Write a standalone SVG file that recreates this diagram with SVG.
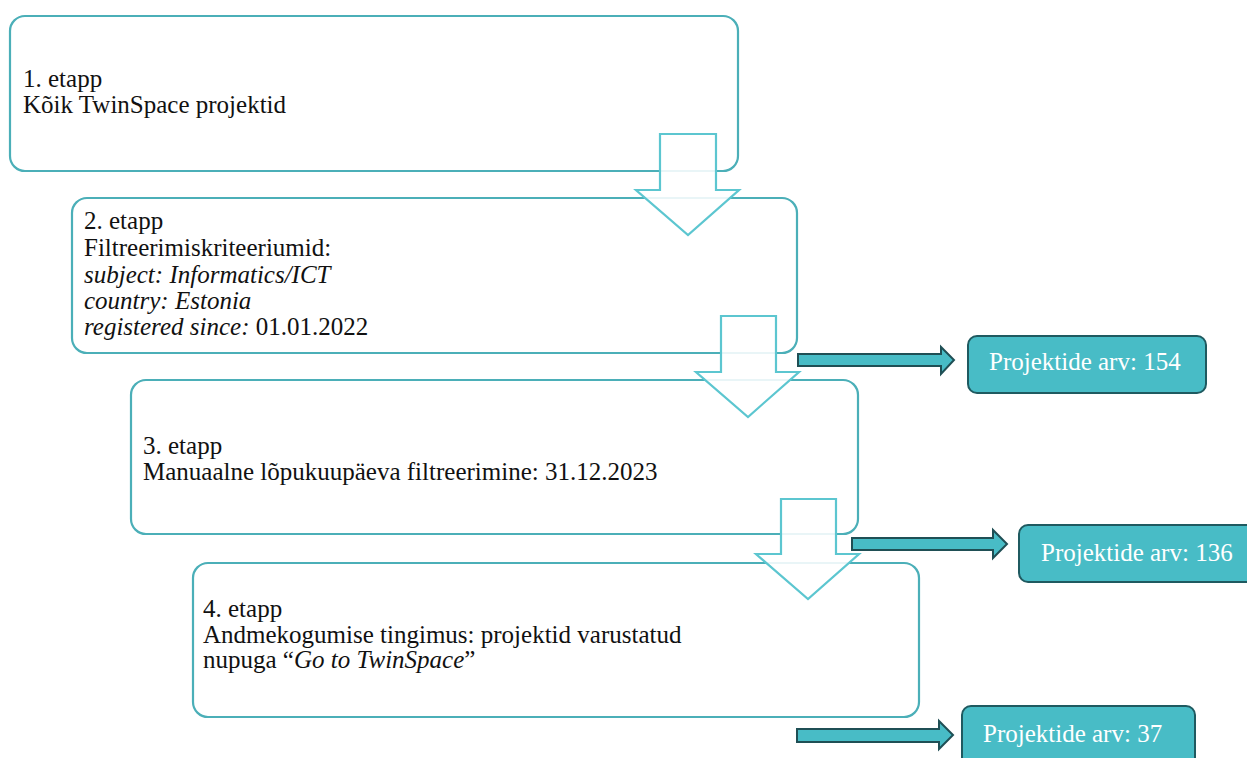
<svg xmlns="http://www.w3.org/2000/svg" width="1247" height="758" viewBox="0 0 1247 758">
<style>
.stage{fill:#fff;stroke:#4BAFB8;stroke-width:2.2}
.t{font-size:21px;fill:#111}
.it{font-style:italic}
.down{fill:#fff;fill-opacity:0.88;stroke:#5CC6D0;stroke-width:2.2;stroke-linejoin:miter}
.cnt{fill:#48BCC6;stroke:#1F5A60;stroke-width:2}
.ct{font-size:21px;fill:#fff}
.rarr{fill:#48BCC6;stroke:#1F4F55;stroke-width:2;stroke-linejoin:miter}
</style>
<rect width="1247" height="758" fill="#fff"/>
<g id="stage1" font-family="serif">
<rect class="stage" x="10" y="16" width="728" height="155" rx="15"/>
<text class="t" transform="translate(23,87) scale(1.1905)">1. etapp</text>
<text class="t" transform="translate(23,113) scale(1.1905)">Kõik TwinSpace projektid</text>
</g>
<g id="stage2" font-family="serif">
<rect class="stage" x="72" y="198" width="725" height="155" rx="15"/>
<text class="t" transform="translate(84,229) scale(1.1905)">2. etapp</text>
<text class="t" transform="translate(84,256) scale(1.1905)">Filtreerimiskriteeriumid:</text>
<text class="t it" transform="translate(84,283) scale(1.1905)">subject: Informatics/ICT</text>
<text class="t it" transform="translate(84,309) scale(1.1905)">country: Estonia</text>
<text class="t" transform="translate(84,335) scale(1.1905)"><tspan class="it">registered since:</tspan> 01.01.2022</text>
</g>
<g id="stage3" font-family="serif">
<rect class="stage" x="131" y="380" width="727" height="154" rx="15"/>
<text class="t" transform="translate(143,454) scale(1.1905)">3. etapp</text>
<text class="t" transform="translate(143,480) scale(1.1905)">Manuaalne lõpukuupäeva filtreerimine: 31.12.2023</text>
</g>
<g id="stage4" font-family="serif">
<rect class="stage" x="193" y="563" width="726" height="154" rx="15"/>
<text class="t" transform="translate(203,617) scale(1.1905)">4. etapp</text>
<text class="t" transform="translate(203,643) scale(1.1905)">Andmekogumise tingimus: projektid varustatud</text>
<text class="t" transform="translate(203,668) scale(1.1905)">nupuga “<tspan class="it">Go to TwinSpace</tspan>”</text>
</g>
<g id="count1" font-family="serif">
<rect class="cnt" x="968" y="336" width="238" height="57" rx="9"/>
<text class="ct" transform="translate(989,370) scale(1.1905)">Projektide arv: 154</text>
</g>
<g id="count2" font-family="serif">
<rect class="cnt" x="1019" y="525" width="240" height="57" rx="9"/>
<text class="ct" transform="translate(1041,561) scale(1.1905)">Projektide arv: 136</text>
</g>
<g id="count3" font-family="serif">
<rect class="cnt" x="962" y="706" width="233" height="62" rx="9"/>
<text class="ct" transform="translate(983,742) scale(1.1905)">Projektide arv: 37</text>
</g>
<g id="connectors">
<polygon class="down" points="660,134 716,134 716,190 739,190 688,235 636,190 660,190"/>
<polygon class="down" points="721,316 776,316 776,372 799,372 748,417 696,372 721,372"/>
<polygon class="down" points="781,499 836,499 836,554 859,554 808,599 756,554 781,554"/>
<polygon class="rarr" points="798,354 941,354 941,347 954,360 941,374 941,366 798,366"/>
<polygon class="rarr" points="852,538 993,538 993,530 1007,544 993,558 993,550 852,550"/>
<polygon class="rarr" points="797,729 939,729 939,721 953,735 939,749 939,742 797,742"/>
</g>
</svg>
